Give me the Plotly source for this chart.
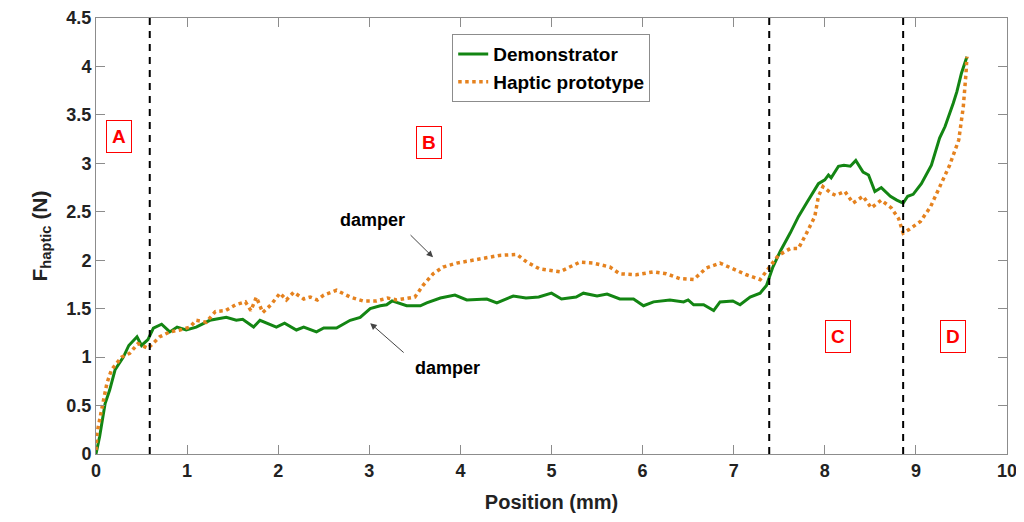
import plotly.graph_objects as go

# Demonstrator (green, solid)
demo_x = [0.0, 0.04, 0.10, 0.15, 0.21, 0.30, 0.36, 0.45, 0.50, 0.57, 0.63, 0.72, 0.81, 0.89, 0.99,
          1.10, 1.25, 1.43, 1.54, 1.61, 1.73, 1.80, 1.98, 2.07, 2.20, 2.28, 2.42, 2.50, 2.64, 2.79,
          2.90, 3.01, 3.12, 3.19, 3.25, 3.41, 3.56, 3.63, 3.78, 3.94, 4.07, 4.29, 4.40, 4.58, 4.72,
          4.86, 5.00, 5.11, 5.27, 5.35, 5.50, 5.61, 5.75, 5.90, 6.01, 6.12, 6.30, 6.45, 6.50, 6.56,
          6.67, 6.78, 6.85, 6.99, 7.07, 7.18, 7.29, 7.36, 7.43, 7.51, 7.62, 7.71, 7.80, 7.93, 8.00,
          8.04, 8.07, 8.15, 8.21, 8.28, 8.34, 8.42, 8.48, 8.55, 8.62, 8.72, 8.79, 8.86, 8.91, 8.97,
          9.06, 9.10, 9.17, 9.26, 9.32, 9.41, 9.45, 9.50, 9.56]
demo_y = [0.0, 0.18, 0.52, 0.66, 0.87, 1.00, 1.12, 1.21, 1.12, 1.18, 1.30, 1.34, 1.26, 1.31, 1.28,
          1.31, 1.38, 1.41, 1.38, 1.39, 1.31, 1.38, 1.31, 1.35, 1.28, 1.31, 1.26, 1.30, 1.30, 1.38,
          1.41, 1.50, 1.53, 1.54, 1.58, 1.53, 1.53, 1.56, 1.61, 1.64, 1.59, 1.60, 1.56, 1.63, 1.61,
          1.62, 1.66, 1.60, 1.62, 1.66, 1.63, 1.65, 1.60, 1.60, 1.53, 1.57, 1.59, 1.57, 1.59, 1.54,
          1.54, 1.48, 1.57, 1.58, 1.54, 1.62, 1.66, 1.74, 1.93, 2.09, 2.28, 2.45, 2.59, 2.79, 2.83,
          2.88, 2.85, 2.97, 2.98, 2.97, 3.03, 2.91, 2.88, 2.71, 2.75, 2.66, 2.62, 2.59, 2.66, 2.68,
          2.79, 2.86, 2.98, 3.26, 3.38, 3.62, 3.74, 3.93, 4.10]

# Haptic prototype (orange, dotted)
proto_x = [0.0, 0.01, 0.06, 0.12, 0.17, 0.28, 0.37, 0.46, 0.57, 0.63, 0.70, 0.81, 0.92, 1.03, 1.10,
           1.21, 1.31, 1.42, 1.53, 1.64, 1.70, 1.76, 1.83, 1.92, 2.02, 2.09, 2.17, 2.28, 2.35, 2.43,
           2.50, 2.64, 2.79, 2.93, 3.08, 3.20, 3.30, 3.50, 3.59, 3.70, 3.81, 3.96, 4.14, 4.29, 4.43,
           4.62, 4.73, 4.87, 5.09, 5.31, 5.46, 5.64, 5.75, 5.93, 6.12, 6.26, 6.41, 6.56, 6.70, 6.85,
           7.00, 7.14, 7.29, 7.40, 7.49, 7.62, 7.71, 7.80, 7.89, 7.93, 7.98, 8.07, 8.12, 8.22, 8.31,
           8.42, 8.51, 8.62, 8.73, 8.81, 8.86, 8.93, 9.05, 9.16, 9.26, 9.37, 9.47, 9.52, 9.55, 9.56]
proto_y = [0.04, 0.21, 0.45, 0.73, 0.87, 1.00, 1.04, 1.14, 1.09, 1.14, 1.21, 1.26, 1.28, 1.31, 1.38,
           1.36, 1.47, 1.48, 1.54, 1.57, 1.48, 1.62, 1.46, 1.54, 1.66, 1.59, 1.67, 1.60, 1.62, 1.59,
           1.64, 1.69, 1.62, 1.58, 1.58, 1.61, 1.59, 1.62, 1.74, 1.86, 1.93, 1.97, 2.00, 2.03, 2.05,
           2.06, 1.98, 1.91, 1.88, 1.98, 1.97, 1.93, 1.86, 1.85, 1.88, 1.86, 1.81, 1.80, 1.92, 1.97,
           1.91, 1.85, 1.80, 1.93, 2.05, 2.12, 2.12, 2.28, 2.45, 2.66, 2.76, 2.69, 2.67, 2.71, 2.59,
           2.66, 2.54, 2.62, 2.54, 2.43, 2.28, 2.32, 2.40, 2.55, 2.76, 2.98, 3.24, 3.58, 3.93, 4.10]

# phase boundaries and phase labels
boundaries = [0.59, 7.39, 8.86]
phase_names = ["A", "B", "C", "D"]
phase_x = [0.256, 3.66, 8.15, 9.41]
phase_y = [3.28, 3.22, 1.21, 1.21]

# "damper" callouts: text position, arrow tail, arrow head
damper_text = [(3.035, 2.415), (3.86, 0.89)]
damper_tail = [(3.42, 2.29), (3.41, 1.02)]
damper_head = [(3.70, 2.03), (3.01, 1.35)]

FONT = "Liberation Sans, Arial, sans-serif"

fig = go.Figure()
fig.add_trace(go.Scatter(
    x=demo_x, y=demo_y, mode="lines", name="Demonstrator",
    line=dict(color="#138513", width=3),
))
fig.add_trace(go.Scatter(
    x=proto_x, y=proto_y, mode="lines", name="Haptic prototype",
    line=dict(color="#e5821f", width=3.5, dash="dot"),
))

for b in boundaries:
    fig.add_vline(x=b, line=dict(color="black", width=2, dash="7px,6px"))

for name, px, py in zip(phase_names, phase_x, phase_y):
    fig.add_annotation(
        x=px, y=py, text=name, showarrow=False,
        font=dict(family=FONT, size=19, color="red", weight="bold"),
        bordercolor="red", borderwidth=1, borderpad=5, bgcolor="white",
    )

for (tx, ty), (ax, ay), (hx, hy) in zip(damper_text, damper_tail, damper_head):
    fig.add_annotation(
        x=tx, y=ty, text="damper", showarrow=False,
        font=dict(family=FONT, size=18, color="black", weight="bold"),
    )
    fig.add_annotation(
        x=hx, y=hy, ax=ax, ay=ay, axref="x", ayref="y", text=" ",
        showarrow=True, arrowhead=2, arrowsize=1.3, arrowwidth=1, arrowcolor="#444",
    )

axis_common = dict(
    showgrid=False, zeroline=False, showline=True, linecolor="#8c8c8c", linewidth=1,
    mirror="ticks", ticks="inside", ticklen=9, tickcolor="#8c8c8c", automargin=False,
    tickfont=dict(family=FONT, size=18, color="#222", weight="bold"),
)

fig.update_xaxes(
    range=[0, 10], dtick=1, tick0=0,
    title=dict(text="Position (mm)", font=dict(family=FONT, size=20, color="#222", weight="bold"),
               standoff=15),
    **axis_common,
)
fig.update_yaxes(
    range=[0, 4.5], dtick=0.5, tick0=0,
    title=dict(text="F<sub>haptic</sub> (N)",
               font=dict(family=FONT, size=21, color="#222", weight="bold"), standoff=13),
    **axis_common,
)

# the page adds an 8px body margin, so the figure is shrunk by that amount
fig.update_layout(
    width=1016, height=514,
    margin=dict(l=88, r=17, t=10, b=68),
    plot_bgcolor="white", paper_bgcolor="white",
    font=dict(family=FONT, weight="bold"),
    legend=dict(
        x=0.391, y=0.963, xanchor="left", yanchor="top",
        bgcolor="white", bordercolor="#8c8c8c", borderwidth=1,
        font=dict(family=FONT, size=19, color="black", weight="bold"),
        itemwidth=30, tracegroupgap=0,
    ),
    showlegend=True,
)

fig.write_html("out.html")
